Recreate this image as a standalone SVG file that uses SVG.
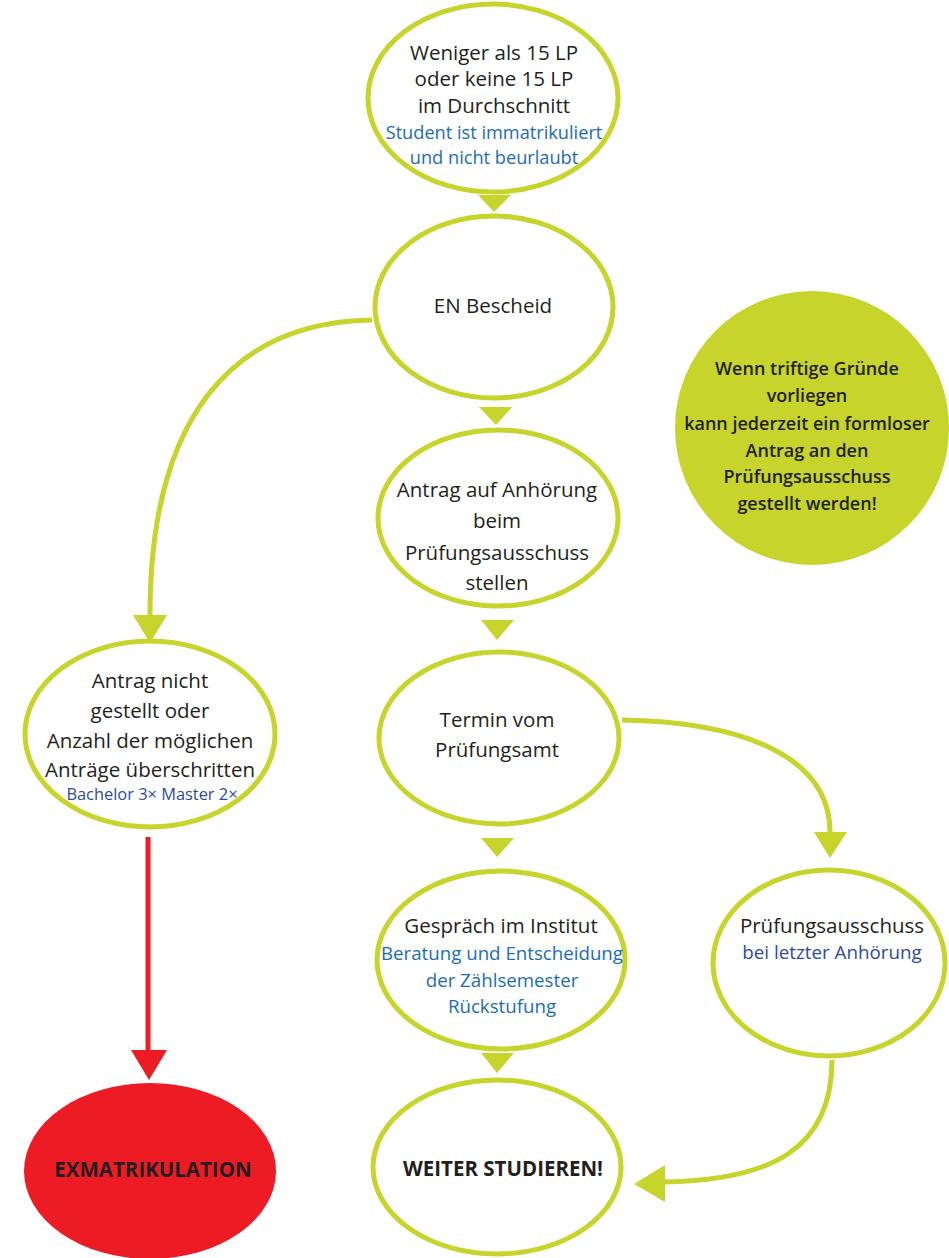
<svg xmlns="http://www.w3.org/2000/svg" width="949" height="1258" viewBox="0 0 949 1258">
<style>
.n{fill:#fff;stroke:#c6d42c;stroke-width:5}
.t{font-family:"Open Sans","Liberation Sans",sans-serif;font-size:20.5px;fill:#231f20;text-anchor:middle}
.b{fill:#1b6db5}
.d{fill:#2e4b9c}
.bold{font-weight:bold}
.g{font-size:18px;font-weight:600}
.s1{font-size:18.2px}
.s2{font-size:18.7px}
.s3{font-size:16.4px}
.s4{font-size:18.8px}
.c{fill:none;stroke:#c6d42c;stroke-width:5}
.tri{fill:#c6d42c}
</style>
<rect width="949" height="1258" fill="#fff"/>
<g id="connectors">
<polygon class="tri" points="478,195 511,195 494,212"/>
<polygon class="tri" points="479,407 512,407 496,425"/>
<polygon class="tri" points="481,620 514,620 497,640"/>
<polygon class="tri" points="481,838 514,838 497,857"/>
<polygon class="tri" points="481,1053 514,1053 497,1073"/>
<path class="c" d="M372,320 C230,322 150,420 150,615"/>
<polygon class="tri" points="133,615 167,615 150,643"/>
<path class="c" d="M622,720 C750,722 830,760 830,832"/>
<polygon class="tri" points="814,832 847,832 830,858"/>
<path class="c" d="M832,1060 C832,1150 770,1180 665,1182"/>
<polygon class="tri" points="634,1184 665,1165 665,1202"/>
<line x1="148" y1="837" x2="148" y2="1052" stroke="#ed1c24" stroke-width="5"/>
<polygon points="131,1050 167,1050 149,1080" fill="#ed1c24"/>
</g>
<g id="n1">
<ellipse class="n" cx="493" cy="98" rx="125" ry="94"/>
<text class="t" x="494" y="60">Weniger als 15 LP</text>
<text class="t" x="494" y="86">oder keine 15 LP</text>
<text class="t" x="494" y="113">im Durchschnitt</text>
<text class="t b s1" x="494" y="139">Student ist immatrikuliert</text>
<text class="t b s1" x="494" y="164">und nicht beurlaubt</text>
</g>
<g id="n2">
<ellipse class="n" cx="494" cy="307" rx="119" ry="91"/>
<text class="t" x="493" y="313">EN Bescheid</text>
</g>
<g id="n3">
<ellipse class="n" cx="498" cy="518" rx="120" ry="88"/>
<text class="t" x="497" y="497">Antrag auf Anhörung</text>
<text class="t" x="497" y="528">beim</text>
<text class="t" x="497" y="560">Prüfungsausschuss</text>
<text class="t" x="497" y="590">stellen</text>
</g>
<g id="n4">
<ellipse class="n" cx="499" cy="738" rx="120" ry="86"/>
<text class="t" x="497" y="727">Termin vom</text>
<text class="t" x="497" y="757">Prüfungsamt</text>
</g>
<g id="n5">
<ellipse class="n" cx="501" cy="960" rx="124" ry="89"/>
<text class="t" x="501" y="933">Gespräch im Institut</text>
<text class="t b s2" x="502" y="960">Beratung und Entscheidung</text>
<text class="t b s2" x="502" y="987">der Zählsemester</text>
<text class="t b s2" x="502" y="1013">Rückstufung</text>
</g>
<g id="n6">
<ellipse class="n" cx="497" cy="1167" rx="124" ry="87"/>
<text class="t bold" x="503" y="1176">WEITER STUDIEREN!</text>
</g>
<g id="n7">
<ellipse class="n" cx="150" cy="734" rx="125" ry="93"/>
<text class="t" x="150" y="688">Antrag nicht</text>
<text class="t" x="150" y="718">gestellt oder</text>
<text class="t" x="150" y="748">Anzahl der möglichen</text>
<text class="t" x="150" y="777">Anträge überschritten</text>
<text class="t d s3" x="152" y="800">Bachelor 3× Master 2×</text>
</g>
<g id="n8">
<ellipse cx="150" cy="1171" rx="126" ry="88" fill="#ed1c24"/>
<text class="t bold" x="153" y="1177">EXMATRIKULATION</text>
</g>
<g id="n9">
<ellipse class="n" cx="829" cy="963" rx="116" ry="93"/>
<text class="t" x="832" y="933">Prüfungsausschuss</text>
<text class="t d s4" x="832" y="959">bei letzter Anhörung</text>
</g>
<g id="n10">
<circle cx="812" cy="428" r="137" fill="#c6d42c"/>
<text class="t g" x="807" y="375">Wenn triftige Gründe</text>
<text class="t g" x="807" y="402">vorliegen</text>
<text class="t g" x="807" y="430">kann jederzeit ein formloser</text>
<text class="t g" x="807" y="457">Antrag an den</text>
<text class="t g" x="807" y="483">Prüfungsausschuss</text>
<text class="t g" x="807" y="510">gestellt werden!</text>
</g>
</svg>
